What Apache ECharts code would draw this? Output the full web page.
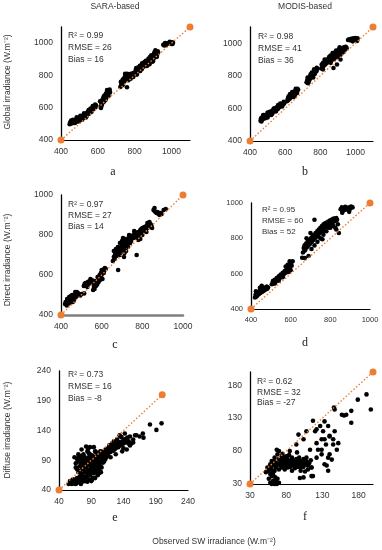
<!DOCTYPE html>
<html><head><meta charset="utf-8">
<script src="https://cdn.jsdelivr.net/npm/echarts@6/dist/echarts.min.js"></script>
<style>html,body{margin:0;padding:0;background:#fff}#c{width:382px;height:550px}</style>
</head><body><div id="c"></div><script>
// ---- data: [observed, estimated] ----
const saraGlobal = [
[447,498],[452,505],[458,502],[462,512],[466,508],[470,520],[474,515],[478,524],[483,518],[487,530],[490,522],[495,535],[499,528],[503,540],[507,533],[512,545],[516,538],[520,550],[525,545],[530,556],[534,550],[538,565],[543,558],[548,570],[552,563],[557,578],[561,572],[566,590],[570,583],[575,605],[579,598],[584,612],[588,605],[590,615],[572,610],[560,595],[545,575],[520,535],[500,520],[480,510],
[455,520],[465,525],[475,505],[485,540],[495,515],[505,550],[515,525],[525,565],[535,540],[550,585],[565,575],[580,595],[585,620],[450,510],[540,548],
[615,605],[618,630],[620,640],[622,620],[625,650],[628,645],[630,660],[633,655],[636,670],[638,665],[640,680],[643,675],[645,690],[648,685],[650,695],[653,700],[656,690],[660,705],[663,700],[666,695],[635,640],[645,660],[655,680],[625,632],[617,598],
[612,640],[620,612],[632,670],[642,650],[650,710],[658,672],[664,712],[630,635],
[722,728],[728,745],[733,760],[738,770],[742,780],[746,790],[750,800],[755,785],[758,775],[762,795],[766,770],[770,790],[774,800],[778,780],[782,795],[786,810],[790,800],[794,815],[798,805],[752,770],[740,757],[760,810],[758,727],
[725,760],[735,740],[748,810],[768,805],[780,810],[792,790],[735,775],[755,800],
[800,810],[805,830],[810,820],[815,840],[818,825],[822,845],[826,835],[830,850],[834,840],[838,860],[842,850],[846,865],[850,855],[854,875],[858,865],[862,880],[866,870],[870,890],[874,880],[878,895],[882,885],[886,905],[890,895],[894,910],[898,900],[902,920],[906,910],[910,930],[914,920],[918,940],[922,930],[925,950],[915,945],[905,935],[880,870],[860,890],[845,870],[900,890],[870,865],[830,828],[890,925],[912,955],[850,880],[820,850],[875,905],
[808,845],[812,805],[828,860],[838,838],[856,885],[866,858],[884,915],[896,885],[908,945],[920,915],[927,940],[840,875],[880,880],
[955,990],[962,995],[968,992],[975,998],[982,1000],[988,997],[995,1003],[1002,1005],[1008,1002],[1000,995],[970,988],[960,985],[965,1000],[990,1008],[1005,995]
];
const modisGlobal = [
[460,525],[463,540],[467,530],[470,545],[474,535],[478,550],[482,542],[486,555],[490,548],[494,560],[498,552],[502,565],[506,558],[510,570],[514,562],[518,578],[522,570],[526,585],[530,576],[534,590],[538,582],[542,596],[546,590],[550,605],[554,597],[558,612],[562,604],[566,618],[570,610],[575,625],[580,618],[585,630],[590,625],[595,632],[500,575],[520,560],[540,600],[560,620],[480,560],
[465,520],[475,560],[488,540],[500,545],[512,580],[525,565],[535,600],[548,582],[560,598],[572,630],[583,612],[592,640],
[612,645],[615,660],[618,652],[622,668],[626,660],[630,675],[634,668],[638,685],[642,678],[646,695],[650,688],[654,705],[658,698],[662,712],[666,705],[670,720],[674,715],[640,700],[628,688],[655,680],
[620,675],[635,690],[648,670],[660,720],[668,695],
[722,760],[726,775],[730,768],[734,785],[738,778],[742,795],[746,788],[750,805],[754,798],[758,815],[762,808],[766,825],[770,818],[774,835],[778,828],[782,842],[760,790],[745,810],[735,765],[765,840],
[728,790],[740,780],[752,820],[768,812],[780,850],[730,755],
[805,845],[808,870],[812,855],[816,880],[820,862],[824,885],[828,870],[832,892],[836,878],[840,900],[844,885],[848,905],[852,892],[856,912],[860,900],[864,920],[868,905],[872,925],[876,912],[880,932],[884,918],[888,940],[892,925],[896,945],[900,932],[904,952],[908,938],[912,958],[916,945],[920,965],[924,950],[928,970],[932,958],[936,975],[940,962],[945,978],[950,970],[870,940],[890,955],[910,975],[880,905],[900,915],[915,930],[850,915],[825,900],[860,880],[925,940],[875,848],[895,870],[915,900],
[815,870],[830,880],[845,895],[858,925],[872,900],[885,945],[898,925],[905,960],[918,955],[930,965],[942,975],[935,950],[815,840],
[958,1020],[964,1025],[970,1018],[976,1028],[982,1022],[988,1030],[994,1025],[1000,1032],[1006,1027],[1012,1030],[985,1012],[1010,1015]
];
const saraDirect = [
[420,455],[423,465],[426,458],[430,470],[433,462],[436,475],[440,468],[443,480],[446,472],[450,485],[453,476],[456,490],[460,482],[463,495],[466,486],[470,500],[473,490],[476,505],[480,496],[483,510],[486,500],[490,505],[495,498],[500,505],[440,490],[455,500],[470,515],[428,448],[445,460],[462,470],[514,508],
[430,480],[448,495],[465,480],[478,515],[438,458],[458,465],
[512,545],[516,555],[520,548],[524,560],[528,552],[532,565],[536,558],[540,570],[544,562],[548,575],[552,566],[556,572],[530,540],[545,580],[520,560],[540,558],
[558,525],[562,540],[565,530],[568,550],[572,545],[575,560],[578,552],[582,570],[585,565],[588,580],[592,575],[595,595],[598,588],[602,605],[605,615],[608,625],[612,630],[616,635],[620,630],[600,625],[590,600],[580,590],[570,570],[604,580],[610,610],[560,555],[565,545],[585,590],[596,610],[612,620],
[655,670],[660,690],[664,680],[668,705],[672,695],[676,715],[680,705],[684,725],[688,715],[692,735],[696,722],[700,745],[704,730],[708,755],[712,740],[716,765],[720,750],[724,775],[728,760],[732,785],[736,770],[740,790],[744,778],[748,795],[752,785],[756,800],[760,790],[764,805],[768,795],[772,810],[660,720],[670,730],[680,740],[690,760],[700,770],[710,690],[720,720],[730,740],[740,760],[681,625],[772,700],[705,785],[715,780],[690,700],
[665,700],[685,735],[698,750],[715,755],[728,775],[745,770],[758,785],[770,790],[712,710],[735,800],[762,815],
[765,790],[770,805],[775,795],[780,815],[785,805],[790,825],[795,815],[800,835],[805,820],[810,840],[815,828],[820,845],[825,835],[830,850],[835,840],[840,855],[845,845],[848,835],[790,780],[800,800],[810,820],[820,815],[780,775],[760,820],[825,860],[835,865],
[782,800],[795,830],[808,830],[818,835],[832,845],[842,850],
[855,925],[860,920],[865,915],[870,910],[875,915],[880,905],[885,900],[890,910],[895,905],[905,925],[860,935],[915,930]
];
const modisDirect = [
[420,465],[423,480],[426,470],[430,490],[433,478],[436,495],[440,485],[443,500],[446,490],[450,505],[453,495],[456,510],[460,500],[463,515],[466,505],[470,520],[474,510],[478,525],[482,515],[486,522],[445,520],[454,531],[425,500],
[430,475],[448,510],[470,510],[480,525],
[505,540],[510,555],[515,545],[520,565],[525,555],[530,575],[535,565],[540,585],[545,575],[550,595],[555,585],[560,605],[565,595],[570,615],[575,605],[580,625],[585,615],[590,640],[595,630],[600,655],[605,645],[610,670],[575,640],[590,610],[560,580],[600,620],[585,650],[595,670],[540,560],[520,545],
[512,560],[528,565],[548,590],[568,605],[588,625],[602,660],
[658,690],[662,720],[666,745],[670,760],[674,735],[678,770],[682,750],[686,780],[690,760],[694,790],[698,770],[702,800],[706,780],[710,810],[714,790],[718,820],[722,800],[726,830],[730,810],[734,840],[738,820],[742,850],[746,830],[750,860],[754,840],[758,870],[762,850],[766,880],[770,860],[774,885],[778,865],[782,890],[786,870],[790,895],[794,875],[798,900],[802,880],[806,905],[810,885],[814,910],[818,895],[822,912],[826,900],[830,915],[834,905],[838,880],[720,905],[670,730],[690,700],[705,740],[720,760],[735,780],[750,800],[765,820],[780,840],[800,860],[815,870],[825,860],[680,800],[700,830],[740,810],[760,795],[830,850],[672,688],[843,830],
[680,760],[695,775],[710,795],[725,815],[740,835],[755,850],[770,870],[785,880],[800,895],[815,900],[828,908],[765,840],[745,845],[790,860],[805,870],
[852,965],[858,975],[862,955],[866,970],[870,960],[875,978],[880,965],[885,972],[890,960],[895,975],[900,968],[905,980],[912,975],[860,945],[895,950]
];
const saraDiffuse = [
[55,50],[58,52],[60,50],[62,54],[64,51],[66,55],[68,52],[70,56],[72,53],[74,57],[76,54],[78,58],[62,58],[68,60],[72,62],[60,56],[66,50],[74,50],[80,55],[57,55],
[64,95],[66,85],[68,92],[68,75],[70,88],[70,70],[72,80],[72,96],[74,85],[74,68],[76,90],[76,75],[78,82],[78,100],[80,70],[80,88],[80,95],[82,78],[82,62],[84,90],[84,72],[84,105],[86,82],[86,95],[88,75],[88,65],[88,100],[90,85],[90,92],[90,70],[92,80],[92,98],[92,60],[94,88],[94,75],[96,95],[96,82],[96,105],[98,70],[98,88],[100,92],[100,80],[100,100],[102,85],[102,75],[104,95],[104,105],[106,88],[106,98],[108,92],[108,102],[110,95],[110,105],[112,100],[112,108],[114,104],[114,96],[116,110],[70,100],[75,108],[82,113],[97,104],[85,109],[78,62],[86,58],[90,55],[96,60],[84,54],[91,57],[100,65],[105,70],[94,112],[88,112],
[66,78],[70,95],[72,72],[74,92],[76,98],[78,76],[80,80],[82,92],[84,84],[86,70],[86,102],[88,88],[90,78],[90,98],[92,88],[94,95],[94,68],[96,75],[98,92],[98,80],[100,86],[102,96],[102,68],[104,88],[104,80],[106,94],[106,78],[108,86],[110,88],[112,92],[80,62],[84,65],[76,65],[92,72],[96,88],[100,72],[106,104],[110,100],
[116,100],[118,108],[120,104],[122,112],[124,106],[126,115],[128,110],[130,118],[132,112],[134,120],[136,115],[138,122],[140,118],[142,125],[144,120],[146,128],[148,122],[150,130],[125,122],[130,125],[135,130],[140,110],[145,108],[150,115],[155,120],[155,125],[120,95],[128,100],[138,105],[158,132],[152,118],[134,132],[142,135],[137,129],
[118,115],[122,118],[126,108],[132,120],[144,126],[148,118],
[160,132],[170,135],[171,128],[181,150],[191,141],[199,152],[165,130]
];
const modisDiffuse = [
[56,38],[58,32],[60,42],[62,35],[64,30],[65,40],[66,34],[68,38],[70,32],[62,44],[58,45],[67,30],[60,30],
[52,48],[54,55],[56,50],[58,60],[60,52],[60,65],[62,58],[64,50],[64,70],[66,62],[66,55],[68,75],[68,60],[70,52],[70,68],[72,58],[72,64],[74,55],[74,72],[76,60],[76,66],[78,52],[78,70],[80,58],[80,64],[82,55],[82,68],[84,60],[84,74],[86,56],[86,65],[88,62],[88,70],[90,58],[90,66],[92,54],[92,62],[94,60],[94,68],[96,56],[96,64],[98,60],[98,70],[100,58],[100,65],[102,62],[104,56],[104,68],[106,60],[108,64],[110,58],[112,62],[114,66],[62,48],[70,80],[75,76],[85,80],[95,78],[67,82],[80,72],[88,50],[100,50],[110,52],[115,55],
[58,55],[62,62],[66,58],[70,60],[74,62],[78,60],[82,62],[86,60],[90,62],[94,64],[98,62],[102,58],[106,66],[110,62],[64,65],[72,68],[80,66],[88,66],[96,68],[104,62],[76,56],[84,56],[92,58],[100,55],
[117,126],[108,110],[104,98],[94,90],[120,110],[127,118],[131,110],[133,98],[138,118],[140,103],[145,98],[147,143],[145,90],[140,75],[133,60],[138,50],[124,82],[122,70],[115,55],[104,40],[117,42],[129,98],[157,135],[160,134],[170,141],[170,123],[179,158],[191,166],[197,143],[113,82],[108,70],[97,105],[129,75],[150,82],[143,67],[122,113],[133,125],[135,90],[147,110],[152,92],[163,135],[146,146],[106,49],[99,39],[115,42],[138,70],[136,58],[122,92],[129,82],[140,102]
];
const globalTicks = [400, 600, 800, 1000];
const directTicks = [400, 600, 800, 1000];
const saraDiffuseTicks = [40, 90, 140, 190, 240];
const modisDiffuseTicks = [30, 80, 130, 180];
const axisMin = [400, 400, 400, 400, 40, 30];
const axisMax = [1100, 1100, 1000, 1000, 240, 200];
const oneToOneEnd = [1100, 1100, 1000, 1000, 200, 200];
const r2 = ['0.99', '0.98', '0.97', '0.95', '0.73', '0.62'];
const rmse = ['26', '41', '27', '60', '16', '32'];
const bias = ['16', '36', '14', '52', '-8', '-27'];
const letters = ['a', 'b', 'c', 'd', 'e', 'f'];
const columnTitles = ['SARA-based', 'MODIS-based'];
const rowTitles = ['Global irradiance (W.m\u207B\u00B2)', 'Direct irradiance (W.m\u207B\u00B2)', 'Diffuse irradiance (W.m\u207B\u00B2)'];
const xTitle = 'Observed SW irradiance (W.m\u207B\u00B2)';

// ---- layout ----
const panelData = [saraGlobal, modisGlobal, saraDirect, modisDirect, saraDiffuse, modisDiffuse];
const tickSets = [globalTicks, globalTicks, directTicks, directTicks, saraDiffuseTicks, modisDiffuseTicks];
const grids = [
  {left: 61, top: 27, width: 129, height: 113},
  {left: 250, top: 27, width: 123, height: 114},
  {left: 61, top: 195, width: 122, height: 120},
  {left: 251, top: 203, width: 119, height: 106},
  {left: 59, top: 371, width: 129, height: 119},
  {left: 250, top: 372, width: 123, height: 112}
];
const statPos = [[68, 36, 12], [258, 37, 11.6], [68, 205, 11], [262, 210, 11], [68, 375, 12], [257, 382, 10.5]];
const letterPos = [[113, 172], [305, 172], [115, 345], [305, 343], [115, 518], [305, 517]];
const FONT = '"Liberation Sans", Arial, sans-serif';
const TXT = '#333';
const ORANGE = '#ED7D31';

const xAxes = [], yAxes = [], series = [], graphics = [];
grids.forEach((g, i) => {
  const fs = i === 3 ? 7.5 : 8.5;
  const xLine = i === 2 ? {color: '#7f7f7f', width: 2.5} : {color: '#000', width: 1.2};
  xAxes.push({
    gridIndex: i, type: 'value', min: axisMin[i], max: axisMax[i],
    axisLine: {show: true, onZero: false, lineStyle: xLine},
    axisTick: {show: false}, splitLine: {show: false},
    axisLabel: {customValues: tickSets[i], formatter: v => String(v), color: TXT, fontSize: fs, fontFamily: FONT, margin: 7}
  });
  yAxes.push({
    gridIndex: i, type: 'value', min: axisMin[i], max: axisMax[i],
    axisLine: {show: true, onZero: false, lineStyle: {color: '#000', width: 1.3}},
    axisTick: {show: false}, splitLine: {show: false},
    axisLabel: {customValues: tickSets[i], formatter: v => String(v), color: TXT, fontSize: fs, fontFamily: FONT, margin: 8}
  });
  series.push({
    type: 'scatter', xAxisIndex: i, yAxisIndex: i, data: panelData[i],
    symbolSize: 4.6, itemStyle: {color: '#000', opacity: 1}, z: 2, silent: true
  });
  series.push({
    type: 'line', xAxisIndex: i, yAxisIndex: i,
    data: [[axisMin[i], axisMin[i]], [oneToOneEnd[i], oneToOneEnd[i]]],
    symbol: 'circle', symbolSize: 7, showSymbol: true,
    itemStyle: {color: ORANGE}, lineStyle: {color: ORANGE, width: 1.4, type: [1.5, 2]},
    z: 3, silent: true, animation: false
  });
  const [sx, sy, lh] = statPos[i];
  const lines = ['R\u00B2 = ' + r2[i], 'RMSE = ' + rmse[i], 'Bias = ' + bias[i]];
  lines.forEach((t, k) => graphics.push({
    type: 'text', x: sx, y: sy + k * lh,
    style: {text: t, font: (i === 3 ? 8 : 8.5) + 'px ' + FONT, fill: TXT, verticalAlign: 'middle'}
  }));
  graphics.push({
    type: 'text', x: letterPos[i][0], y: letterPos[i][1],
    style: {text: letters[i], font: '12px "Liberation Serif", "Times New Roman", serif', fill: '#222', align: 'center', verticalAlign: 'middle'}
  });
});
columnTitles.forEach((t, k) => graphics.push({
  type: 'text', x: k === 0 ? 115 : 305, y: 7,
  style: {text: t, font: '8.5px ' + FONT, fill: TXT, align: 'center', verticalAlign: 'middle'}
}));
[82, 260, 430].forEach((cy, k) => graphics.push({
  type: 'text', x: 8, y: cy, rotation: Math.PI / 2,
  style: {text: rowTitles[k], font: '8.5px ' + FONT, fill: TXT, align: 'center', verticalAlign: 'middle'}
}));
graphics.push({
  type: 'text', x: 214, y: 542,
  style: {text: xTitle, font: '8.5px ' + FONT, fill: TXT, align: 'center', verticalAlign: 'middle'}
});

const chart = echarts.init(document.getElementById('c'), null, {renderer: 'canvas'});
chart.setOption({
  animation: false,
  backgroundColor: '#fff',
  grid: grids,
  xAxis: xAxes,
  yAxis: yAxes,
  series: series,
  graphic: graphics
});
</script></body></html>
